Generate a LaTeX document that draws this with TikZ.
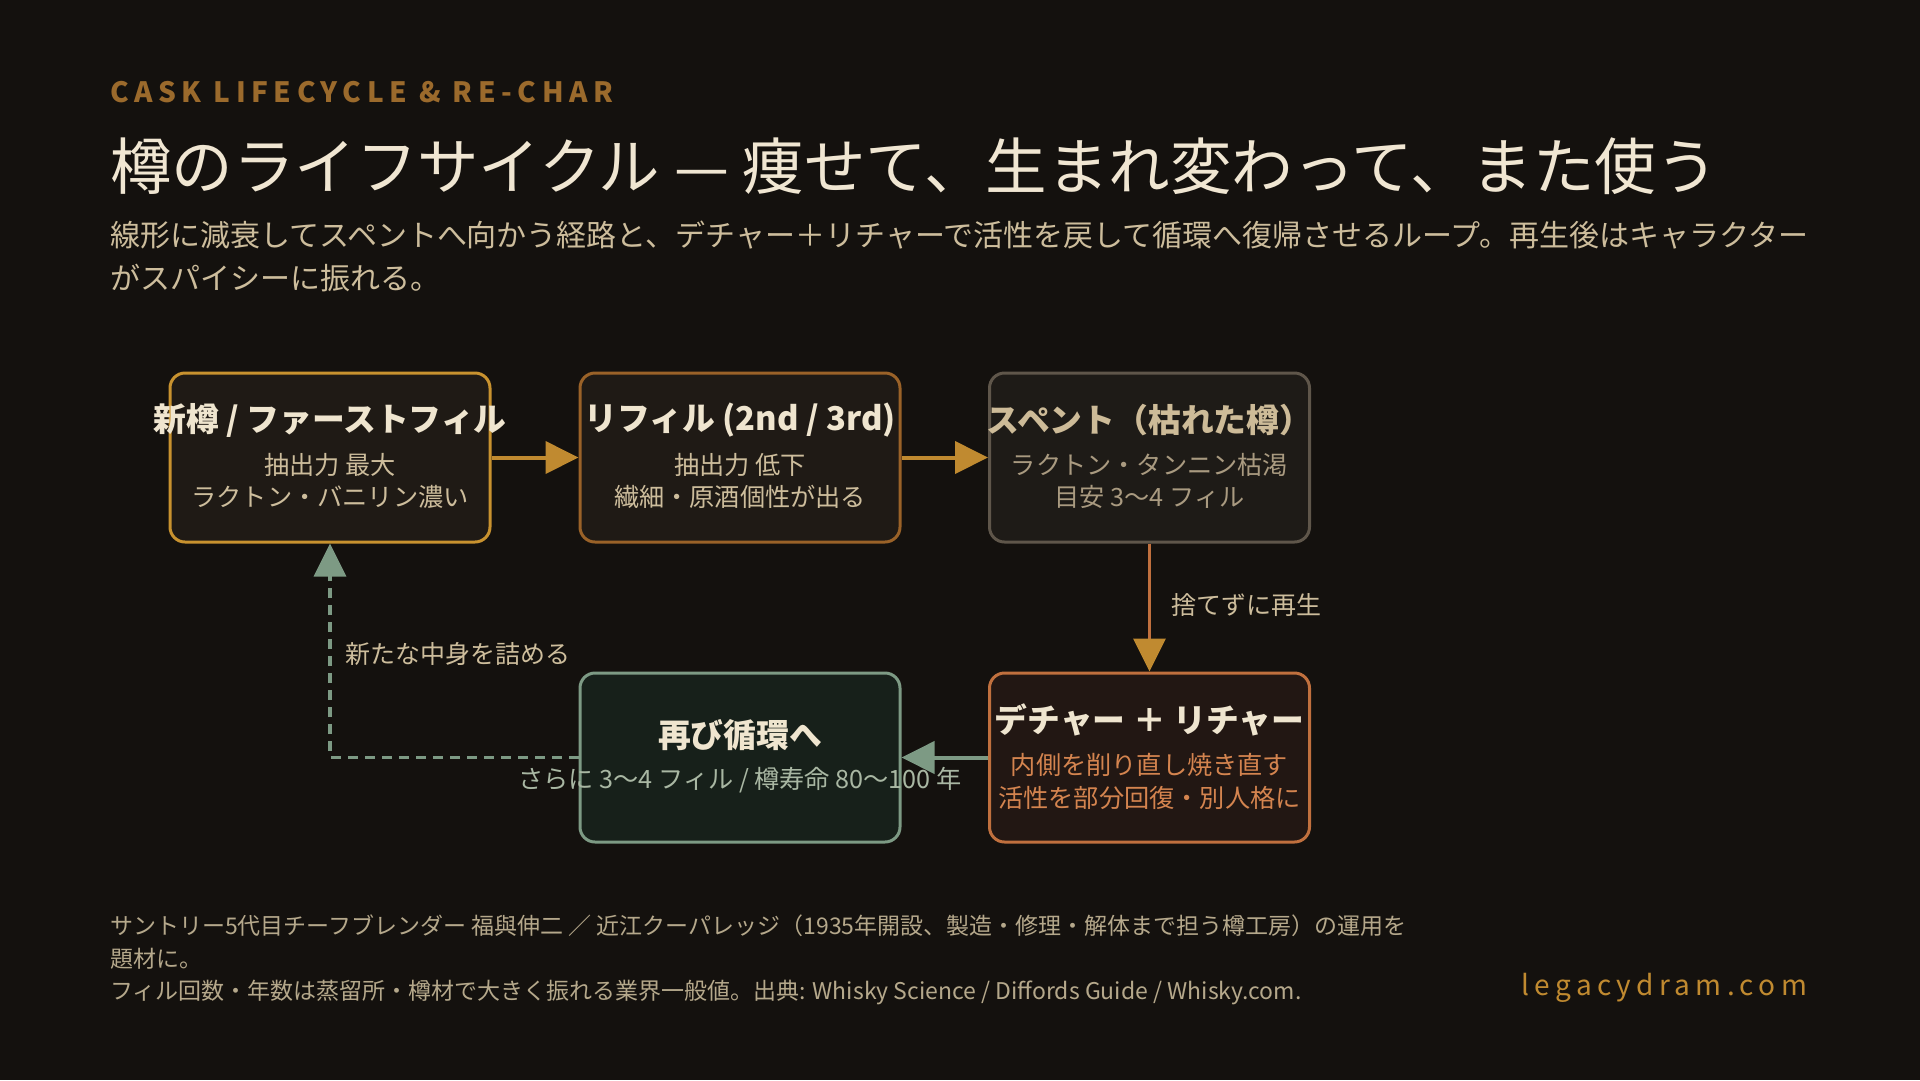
\documentclass[tikz,border=0pt]{standalone}
\usepackage{fontspec}
\setmainfont{Noto Sans CJK JP}
\newfontfamily\tagfont{Noto Sans CJK JP}[LetterSpace=20]
\newfontfamily\sitefont{Noto Sans CJK JP}[LetterSpace=19]
\usetikzlibrary{arrows.meta}
\definecolor{bg}{HTML}{14110E}
\definecolor{gold}{HTML}{C08A30}
\definecolor{bordA}{HTML}{C8922F}
\definecolor{bordB}{HTML}{9A6228}
\definecolor{bordC}{HTML}{5F564A}
\definecolor{bordD}{HTML}{C0703E}
\definecolor{sage}{HTML}{7D9A84}
\definecolor{fillA}{HTML}{1F1A15}
\definecolor{fillC}{HTML}{1E1B17}
\definecolor{fillD}{HTML}{221713}
\definecolor{fillE}{HTML}{17201A}
\definecolor{cream}{HTML}{EFE5CF}
\definecolor{beige}{HTML}{CDBD9C}
\definecolor{spentT}{HTML}{CDBB98}
\definecolor{spentB}{HTML}{A99A80}
\definecolor{orangeT}{HTML}{D4844F}
\definecolor{sageT}{HTML}{A9B7A3}
\definecolor{tagc}{HTML}{9B6A2C}
\definecolor{foot}{HTML}{B5A88B}
\definecolor{titlec}{HTML}{F0E6D2}
\begin{document}
\begin{tikzpicture}[x=1pt,y=-1pt,
  box/.style={draw,rounded corners=15pt,line width=3pt,minimum width=320pt,minimum height=169pt,inner sep=0pt},
  txt/.style={inner sep=0pt,outer sep=0pt},
  boxtitle/.style={txt,font=\fontsize{32.8}{38}\selectfont\bfseries},
  boxbody/.style={txt,font=\fontsize{25.2}{30}\selectfont},
  lbl/.style={txt,font=\fontsize{25}{30}\selectfont,text=beige},
  foottxt/.style={txt,anchor=west,font=\fontsize{23}{28}\selectfont,text=foot},
  bigtip/.style={-{Triangle[length=33pt,width=32pt]}}
]
\fill[bg] (0,0) rectangle (1920,1080);
\useasboundingbox (0,0) rectangle (1920,1080);

% header
\node[txt,anchor=west,text=tagc,font=\tagfont\fontsize{28}{32}\selectfont\bfseries] (tag) at (110,92) {CASK LIFECYCLE \& RE-CHAR};
\node[txt,anchor=west,text=titlec,font=\fontsize{61.5}{70}\selectfont] (title) at (110,166) {樽のライフサイクル — 痩せて、生まれ変わって、また使う};
\node[txt,anchor=west,text=beige,font=\fontsize{30}{36}\selectfont] (sub1) at (110,235) {線形に減衰してスペントへ向かう経路と、デチャー＋リチャーで活性を戻して循環へ復帰させるループ。再生後はキャラクター};
\node[txt,anchor=west,text=beige,font=\fontsize{30}{36}\selectfont] (sub2) at (110,278) {がスパイシーに振れる。};

% boxes
\node[box,draw=bordA,fill=fillA] (b1) at (330,457.5) {};
\node[box,draw=bordB,fill=fillA] (b2) at (740,457.5) {};
\node[box,draw=bordC,fill=fillC] (b3) at (1149.5,457.5) {};
\node[box,draw=bordD,fill=fillD] (b4) at (1149.5,757.5) {};
\node[box,draw=sage,fill=fillE] (b5) at (740,757.5) {};

% box texts
\node[boxtitle,text=cream] (t1) at (330,420) {新樽 / ファーストフィル};
\node[boxbody,text=beige] (t1a) at (330,465) {抽出力 最大};
\node[boxbody,text=beige] (t1b) at (330,497) {ラクトン・バニリン濃い};

\node[boxtitle,text=cream] (t2) at (740,420) {リフィル (2nd / 3rd)};
\node[boxbody,text=beige] (t2a) at (740,465) {抽出力 低下};
\node[boxbody,text=beige] (t2b) at (740,497) {繊細・原酒個性が出る};

\node[boxtitle,text=spentT] (t3) at (1149.5,420) {スペント（枯れた樽）};
\node[boxbody,text=spentB] (t3a) at (1149.5,465) {ラクトン・タンニン枯渇};
\node[boxbody,text=spentB] (t3b) at (1149.5,497) {目安 3〜4 フィル};

\node[boxtitle,text=cream] (t4) at (1149.5,720) {デチャー ＋ リチャー};
\node[boxbody,text=orangeT] (t4a) at (1149.5,765) {内側を削り直し焼き直す};
\node[boxbody,text=orangeT] (t4b) at (1149.5,798) {活性を部分回復・別人格に};

\node[boxtitle,text=cream] (t5) at (740,735) {再び循環へ};

% connectors
\draw[gold,line width=4pt,bigtip] (b1.east) -- (b2.west);
\draw[gold,line width=4pt,bigtip] (b2.east) -- (b3.west);
\draw[bordD,line width=3.5pt,-{Triangle[length=33pt,width=32pt,color=gold]}] (b3.south) -- (b4.north);
\draw[sage,line width=4pt,bigtip] (b4.west) -- (b5.east);
\draw[sage,line width=3.5pt,dash pattern=on 10pt off 7pt,bigtip] (b5.west) -| (b1.south);

\node[lbl,anchor=west] (l1) at (1171,605) {捨てずに再生};
\node[lbl,anchor=west] (l2) at (345,654) {新たな中身を詰める};
\node[boxbody,text=sageT] (t5a) at (740,780) {さらに 3〜4 フィル / 樽寿命 80〜100 年};

% footer
\node[foottxt] (f1) at (110,926) {サントリー5代目チーフブレンダー 福與伸二 ／ 近江クーパレッジ（1935年開設、製造・修理・解体まで担う樽工房）の運用を};
\node[foottxt] (f2) at (110,959) {題材に。};
\node[foottxt] (f3) at (110,992) {フィル回数・年数は蒸留所・樽材で大きく振れる業界一般値。出典: Whisky Science / Diffords Guide / Whisky.com.};
\node[txt,anchor=east,text=gold,font=\sitefont\fontsize{28}{32}\selectfont] (site) at (1807,988) {legacydram.com};
\end{tikzpicture}
\end{document}
